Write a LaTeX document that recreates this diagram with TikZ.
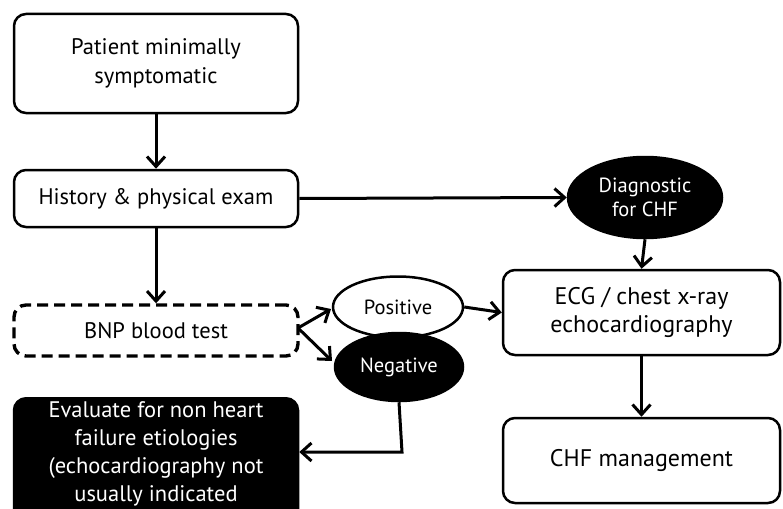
\documentclass[tikz,border=0pt]{standalone}
\usepackage{fontspec}
\setmainfont{PT Sans}
\usetikzlibrary{arrows.meta,shapes.geometric}
\begin{document}
\begin{tikzpicture}[x=1pt,y=-1pt,
  box/.style={draw, line width=2.5pt, rounded corners=12pt, align=center, font=\fontsize{22.5}{29}\selectfont},
  rbox/.style={box, font=\fontsize{24}{28}\selectfont},
  oval/.style={ellipse, draw, line width=2.5pt, font=\fontsize{20.5}{24}\selectfont, align=center, inner sep=0pt},
  darkoval/.style={oval, fill=black, text=white},
  arr/.style={line width=3pt, -{Straight Barb[length=10pt,width=18pt,line width=3pt]}}
]
\clip (0,0) rectangle (783,508);
\useasboundingbox (0,0) rectangle (783,508);
\fill[white] (0,0) rectangle (783,508);
\node[box, minimum width=284pt, minimum height=99pt] (patient) at (156,63.5) {Patient minimally\\symptomatic};
\node[box, minimum width=284pt, minimum height=57pt] (history) at (156,198.5) {History \& physical exam};
\node[box, dashed, dash pattern=on 11pt off 6pt, line width=3.4pt, minimum width=284pt, minimum height=51pt] (bnp) at (156,330.5) {BNP blood test};
\node[box, fill=black, text=white, minimum width=284pt, minimum height=130pt, anchor=north] (eval) at (156,397) {};
\node[font=\fontsize{22.5}{28}\selectfont, text=white, align=center] (evaltext) at (156,454) {Evaluate for non heart\\failure etiologies\\(echocardiography not\\usually indicated};
\node[oval, fill=white, minimum width=130pt, minimum height=61pt] (pos) at (398,307) {Positive};
\node[darkoval, minimum width=128pt, minimum height=68pt] (neg) at (399,367) {Negative};
\node[darkoval, minimum width=154pt, minimum height=81pt] (diag) at (645,197.5) {Diagnostic\\for CHF};
\node[rbox, minimum width=277pt, minimum height=85pt] (ecg) at (641.5,312.5) {ECG / chest x-ray\\echocardiography};
\node[rbox, minimum width=277pt, minimum height=85pt] (chf) at (641.5,460.5) {CHF management};
\draw[arr] (patient.south) -- (history.north);
\draw[arr] (history.south) -- (bnp.north);
\draw[arr] (history.east) -- (diag.west);
\draw[arr] (diag.south) -- (ecg.north);
\draw[arr] (ecg.south) -- (chf.north);
\draw[arr] (pos.east) -- (ecg.west);
\coordinate (bnpout) at (298,328);
\draw[arr] (bnpout) -- (331,309);
\draw[arr] (bnpout) -- (332,361);
\coordinate (bend) at (402,452);
\draw[arr] (neg.south) -- (bend) -- (eval.east |- bend);
\end{tikzpicture}
\end{document}
